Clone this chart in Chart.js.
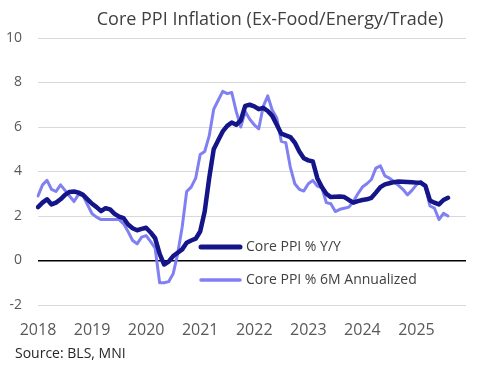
<!DOCTYPE html>
<html>
<head>
<meta charset="utf-8">
<script src="https://cdn.jsdelivr.net/npm/chart.js@4.4.1/dist/chart.umd.min.js"></script>
<style>
  html, body { margin: 0; padding: 0; background: #fff; }
  #wrap { position: relative; width: 495px; height: 372px; }
  #title { position: absolute; left: 0; top: 6px; width: 540px; text-align: center;
           font-family: "Open Sans", sans-serif; font-size: 18px; color: #404040; white-space: nowrap; }
  #source { position: absolute; left: 15px; top: 343px; font-family: "Open Sans", sans-serif;
            font-size: 14px; color: #262626; }
</style>
</head>
<body>
<div id="wrap">
  <canvas id="chart" width="495" height="372"></canvas>
  <div id="title">Core PPI Inflation (Ex-Food/Energy/Trade)</div>
  <div id="source">Source: BLS, MNI</div>
</div>
<script>
// años del eje x (enero de cada año)
const years = ['2018', '2019', '2020', '2021', '2022', '2023', '2024', '2025'];

// Core PPI % Y/Y, mensual desde ene-2018
const coreYoY = [
  2.4, 2.6, 2.75, 2.52, 2.6, 2.75, 2.95, 3.08, 3.1, 3.05, 2.95, 2.75,
  2.55, 2.4, 2.22, 2.35, 2.3, 2.1, 1.97, 1.9, 1.62, 1.45, 1.36, 1.42,
  1.47, 1.26, 1.0, 0.3, -0.18, -0.05, 0.2, 0.35, 0.5, 0.8, 0.9, 0.98,
  1.3, 2.2, 3.7, 5.0, 5.4, 5.8, 6.05, 6.2, 6.1, 6.3, 6.95, 7.0,
  6.93, 6.8, 6.86, 6.72, 6.5, 6.1, 5.7, 5.62, 5.55, 5.3, 4.9, 4.6,
  4.5, 4.45, 3.7, 3.3, 3.0, 2.85, 2.87, 2.88, 2.85, 2.72, 2.6, 2.67,
  2.72, 2.75, 2.82, 3.05, 3.3, 3.42, 3.47, 3.52, 3.55, 3.54, 3.53, 3.52,
  3.5, 3.49, 3.35, 2.7, 2.6, 2.52, 2.72, 2.82
];

// Core PPI % 6M anualizado
const core6M = [
  2.9, 3.4, 3.6, 3.2, 3.1, 3.4, 3.15, 2.9, 2.65, 2.97, 2.92, 2.5,
  2.1, 1.95, 1.84, 1.84, 1.84, 1.84, 1.84, 1.65, 1.3, 0.9, 0.75, 1.05,
  1.12, 0.85, 0.55, -1.0, -1.0, -0.95, -0.6, 0.3, 1.5, 3.1, 3.3, 3.7,
  4.76, 4.9, 5.6, 6.8, 7.2, 7.6, 7.5, 7.55, 6.7, 6.0, 6.7, 6.35,
  6.1, 5.92, 6.93, 7.4, 6.75, 6.4, 5.36, 5.3, 4.2, 3.45, 3.2, 3.12,
  3.45, 3.6, 3.34, 3.27, 2.6, 2.55, 2.2, 2.3, 2.35, 2.4, 2.65, 3.0,
  3.3, 3.45, 3.64, 4.15, 4.25, 3.8, 3.7, 3.55, 3.38, 3.2, 2.95, 3.15,
  3.4, 3.55, 3.3, 2.45, 2.35, 1.84, 2.12, 2.0
];

const yTicks = [-2, 0, 2, 4, 6, 8, 10];

// etiquetas mensuales: solo enero muestra el año
const labels = [];
years.forEach(y => {
  for (let m = 0; m < 12; m++) labels.push(m === 0 ? y : '');
});

// leyenda dentro del área del gráfico
const insideLegend = {
  id: 'insideLegend',
  afterDatasetsDraw(chart) {
    const ctx = chart.ctx;
    const items = [
      { y: 247, ds: chart.data.datasets[0] },
      { y: 280, ds: chart.data.datasets[1] },
    ];
    ctx.save();
    items.forEach(it => {
      ctx.strokeStyle = it.ds.borderColor;
      ctx.lineWidth = it.ds.borderWidth + 0.5;
      ctx.lineCap = 'round';
      ctx.beginPath();
      ctx.moveTo(201, it.y);
      ctx.lineTo(240, it.y);
      ctx.stroke();
      ctx.fillStyle = '#404040';
      ctx.font = '14px "Open Sans"';
      ctx.textBaseline = 'middle';
      ctx.fillText(it.ds.label, 246, it.y);
    });
    ctx.restore();
  }
};

const ctx = document.getElementById('chart').getContext('2d');
new Chart(ctx, {
  type: 'line',
  data: {
    labels: labels,
    datasets: [
      {
        label: 'Core PPI % Y/Y',
        data: coreYoY,
        borderColor: '#15158a',
        borderWidth: 4.5,
        pointRadius: 0,
        tension: 0,
        borderJoinStyle: 'round',
        borderCapStyle: 'round',
      },
      {
        label: 'Core PPI % 6M Annualized',
        data: core6M,
        borderColor: '#8080f2',
        borderWidth: 3,
        pointRadius: 0,
        tension: 0,
        borderJoinStyle: 'round',
        borderCapStyle: 'round',
      },
    ],
  },
  options: {
    responsive: false,
    animation: false,
    layout: { padding: { top: 38, right: 29, left: 0, bottom: 0 } },
    plugins: { legend: { display: false }, tooltip: { enabled: false } },
    scales: {
      x: {
        type: 'category',
        offset: false,
        grid: { display: false, drawTicks: false },
        border: { display: false },
        ticks: {
          autoSkip: false,
          maxRotation: 0,
          padding: 16,
          color: '#595959',
          font: { family: 'Open Sans', size: 16 },
          callback: function (v, i) { return labels[i] || null; },
        },
        afterFit: scale => { scale.height = 67; },
      },
      y: {
        min: -2,
        max: 10,
        afterBuildTicks: scale => { scale.ticks = yTicks.map(v => ({ value: v })); },
        grid: {
          drawTicks: false,
          color: c => (c.tick.value === 0 ? '#000000' : '#d9d9d9'),
          lineWidth: c => (c.tick.value === 0 ? 1.5 : 1),
        },
        border: { display: false },
        ticks: {
          padding: 16,
          color: '#595959',
          font: { family: 'Open Sans', size: 14 },
        },
        afterFit: scale => { scale.width = 38; },
      },
    },
  },
  plugins: [insideLegend],
});
</script>
</body>
</html>
